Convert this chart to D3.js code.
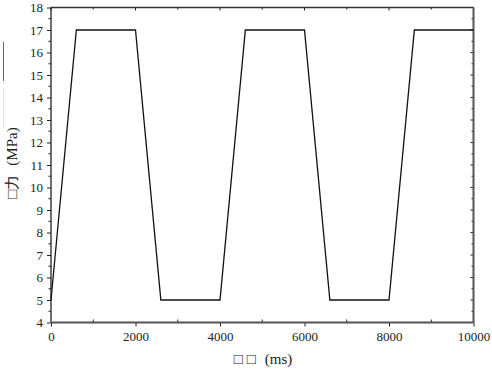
<!DOCTYPE html>
<html><head><meta charset="utf-8">
<script src="https://cdn.jsdelivr.net/npm/d3@7"></script>
<style>body{margin:0;background:#fff;}svg{display:block;}</style>
</head><body>
<svg id="c" width="492" height="377"></svg>
<script>
const timeMs = [0, 600, 2000, 2600, 4000, 4600, 6000, 6600, 8000, 8600, 10000];
const stressMPa = [5, 17, 17, 5, 5, 17, 17, 5, 5, 17, 17];
const xTicks = [0, 2000, 4000, 6000, 8000, 10000];
const yTicks = [4,5,6,7,8,9,10,11,12,13,14,15,16,17,18];
const xLabelParts = ["□", "□", "(ms)"];
const yLabelParts = ["□力", "(MPa)"];

const svg = d3.select("#c");
const L = 51, R = 473.5, T = 7.5, B = 322.5;
const x = d3.scaleLinear().domain([0, 10000]).range([L, R]);
const y = d3.scaleLinear().domain([4, 18]).range([B, T]);
const font = "'Liberation Serif','Times New Roman',serif";
const axisCol = "#555";

const gl = svg.append("g").attr("transform", `translate(${L},0)`)
  .call(d3.axisLeft(y).tickValues(yTicks).tickSize(4).tickPadding(4).tickFormat(d3.format("d")));
gl.attr("font-family", font);
gl.selectAll("text").style("font-family", font).attr("font-size", 13).attr("fill", "#222");
gl.select(".domain").remove();
gl.selectAll("line").attr("stroke", "#222");
svg.append("g").selectAll("line").data(d3.range(4.5, 18, 1)).join("line")
  .attr("x1", L - 2.5).attr("x2", L).attr("y1", d => y(d)).attr("y2", d => y(d)).attr("stroke", "#222");

const gb = svg.append("g").attr("transform", `translate(0,${B})`)
  .call(d3.axisBottom(x).tickValues(xTicks).tickSize(4).tickPadding(5).tickFormat(d3.format("d")));
gb.attr("font-family", font);
gb.selectAll("text").style("font-family", font).attr("font-size", 13).attr("fill", "#222");
gb.select(".domain").remove();
gb.selectAll("line").attr("stroke", "#222");
svg.append("g").selectAll("line").data(d3.range(1000, 10000, 2000)).join("line")
  .attr("x1", d => x(d)).attr("x2", d => x(d)).attr("y1", B - 3).attr("y2", B).attr("stroke", "#222");

svg.append("g").selectAll("line").data(d3.range(0, 10001, 1000)).join("line")
  .attr("x1", d => x(d)).attr("x2", d => x(d)).attr("y1", T).attr("y2", d => T + (d % 2000 === 0 ? 3 : 2)).attr("stroke", "#222");
svg.append("g").selectAll("line").data(d3.range(4, 18.01, 0.5)).join("line")
  .attr("x1", R).attr("x2", d => R - (d % 1 === 0 ? 3 : 2)).attr("y1", d => y(d)).attr("y2", d => y(d)).attr("stroke", "#222");

svg.append("line").attr("x1", L).attr("x2", R).attr("y1", T).attr("y2", T).attr("stroke", "#333").attr("stroke-width", 1.3);
svg.append("line").attr("x1", L).attr("x2", L).attr("y1", T).attr("y2", B).attr("stroke", "#222").attr("stroke-width", 1.3);
svg.append("line").attr("x1", L).attr("x2", R).attr("y1", B).attr("y2", B).attr("stroke", axisCol).attr("stroke-width", 2);
svg.append("line").attr("x1", R).attr("x2", R).attr("y1", T).attr("y2", B).attr("stroke", axisCol).attr("stroke-width", 2);

svg.append("path").datum(timeMs.map((t, i) => [t, stressMPa[i]]))
  .attr("d", d3.line().x(d => x(d[0])).y(d => y(d[1])))
  .attr("fill", "none").attr("stroke", "#111").attr("stroke-width", 1.3);

const xt = svg.append("text").attr("x", 263).attr("y", 364).attr("text-anchor", "middle")
  .style("font-family", font).attr("font-size", 15).attr("fill", "#222");
xt.selectAll("tspan").data(xLabelParts).join("tspan").attr("dx", (d, i) => i === 0 ? 0 : (i === 1 ? 4 : 9)).text(d => d);
const yt = svg.append("text").attr("transform", "translate(17,163) rotate(-90)").attr("text-anchor", "middle")
  .style("font-family", font).attr("font-size", 15).attr("fill", "#222");
yt.selectAll("tspan").data(yLabelParts).join("tspan").attr("dx", (d, i) => i === 0 ? 0 : 9).text(d => d);

svg.append("line").attr("x1", 3.5).attr("x2", 3.5).attr("y1", 42).attr("y2", 81).attr("stroke", "#3a6fd0").attr("stroke-width", 1);
svg.append("line").attr("x1", 3.5).attr("x2", 3.5).attr("y1", 88).attr("y2", 128).attr("stroke", "#dde3f0").attr("stroke-width", 1);
</script>
</body></html>
